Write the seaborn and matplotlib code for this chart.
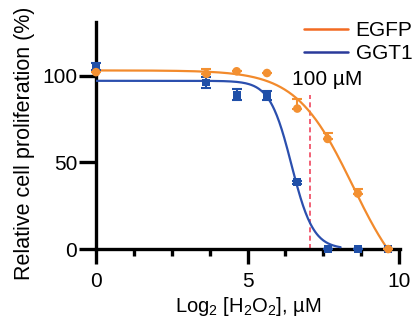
import numpy as np
import pandas as pd
import matplotlib
matplotlib.use("Agg")
import matplotlib.pyplot as plt
import seaborn as sns
from matplotlib.lines import Line2D
from matplotlib.ticker import MultipleLocator

# log2 of H2O2 concentration (uM); 0 = untreated
dose = [0, 3.64, 4.64, 5.64, 6.64, 7.64, 8.64, 9.64]

egfp = [102, 101, 102.5, 101.5, 81, 63.5, 32, 0]
egfp_err = [0, 3, 0, 0, 5.5, 3.5, 2.5, 0]       # upper bars only
ggt1 = [105, 96, 89, 88.5, 38.5, 0, 0, 0]
ggt1_err = [2, 3, 3, 2.5, 1, 0, 0, 0]

# fitted dose-response parameters (top, bottom, x50, slope, curve end)
egfp_fit = (103, -30, 8.47, 1.07, 9.64)
ggt1_fit = (97, 0, 6.45, 2.78, 8.07)

line_100uM = 7.05

orange = "#F39031"
blue = "#1F4FA8"

sns.set_style("ticks")
plt.rcParams["font.family"] = ["Liberation Sans", "DejaVu Sans"]
plt.rcParams["mathtext.fontset"] = "custom"
plt.rcParams["mathtext.rm"] = "Liberation Sans"
plt.rcParams["mathtext.it"] = "Liberation Sans"
plt.rcParams["text.color"] = "black"
plt.rcParams["axes.labelcolor"] = "black"
plt.rcParams["xtick.color"] = "black"
plt.rcParams["ytick.color"] = "black"

fig = plt.figure(figsize=(4.12, 3.26), dpi=100)
ax = fig.add_axes([0.233, 0.236, 0.738, 0.697])


def fit_curve(p, name):
    top, bottom, x50, k, xend = p
    x = np.linspace(0, xend, 300)
    y = bottom + (top - bottom) / (1 + np.exp(k * (x - x50)))
    return pd.DataFrame({"x": x, "y": y, "line": name})


curves = pd.concat([fit_curve(egfp_fit, "EGFP"), fit_curve(ggt1_fit, "GGT1")])
sns.lineplot(data=curves, x="x", y="y", hue="line", palette={"EGFP": "#F28A2C", "GGT1": "#2B4FAE"},
             linewidth=1.6, legend=False, ax=ax, zorder=3)

ax.errorbar(dose, ggt1, yerr=ggt1_err, fmt="none", ecolor=blue, elinewidth=1.5,
            capsize=3.5, capthick=1.5, zorder=4, clip_on=False)
ax.errorbar(dose, egfp, yerr=[np.zeros(len(egfp_err)), egfp_err], fmt="none", ecolor=orange,
            elinewidth=1.5, capsize=3.8, capthick=1.5, zorder=4, clip_on=False)

pts = pd.DataFrame({"x": dose * 2, "y": ggt1 + egfp,
                    "line": ["GGT1"] * len(dose) + ["EGFP"] * len(dose)})
sns.scatterplot(data=pts[pts.line == "GGT1"], x="x", y="y", marker="s", s=32, color=blue,
                edgecolor="none", ax=ax, zorder=5, clip_on=False)
sns.scatterplot(data=pts[pts.line == "EGFP"], x="x", y="y", marker="o", s=38, color=orange,
                edgecolor="none", ax=ax, zorder=6, clip_on=False)

ax.plot([line_100uM, line_100uM], [0, 89], color="#F0455E", linestyle=(0, (3, 2)), linewidth=1.2, zorder=2)
ax.text(6.45, 98, "100 µM", fontsize=15, va="center", ha="left")

ax.set_xlim(0, 10.03)
ax.set_ylim(0, 131)
ax.set_xticks([0, 5, 10])
ax.xaxis.set_minor_locator(MultipleLocator(1.25))
ax.set_yticks([0, 50, 100])
ax.tick_params(axis="x", which="major", length=10.5, width=2.4, labelsize=15, pad=6)
ax.tick_params(axis="y", which="major", length=12.5, width=2.4, labelsize=15, pad=1)
ax.tick_params(axis="x", which="minor", length=5, width=2.4)
for s in ["left", "bottom"]:
    ax.spines[s].set_linewidth(2.4)
    ax.spines[s].set_color("black")
sns.despine(ax=ax)

ax.set_xlabel("Log$_2$ [H$_2$O$_2$], µM", fontsize=14.5, labelpad=3)
ax.set_ylabel("Relative cell proliferation (%)", fontsize=15.5, labelpad=1)
ax.yaxis.set_label_coords(-0.2, 0.465)

handles = [Line2D([], [], color="#F26B22", linewidth=1.8),
           Line2D([], [], color="#2A3A9A", linewidth=1.8)]
ax.legend(handles, ["EGFP", "GGT1"], loc="upper right", bbox_to_anchor=(1.068, 1.04), frameon=False,
          fontsize=15, handlelength=2.1, handletextpad=0.35, labelspacing=0.2, borderaxespad=0)

fig.savefig("out.png", dpi=100)
